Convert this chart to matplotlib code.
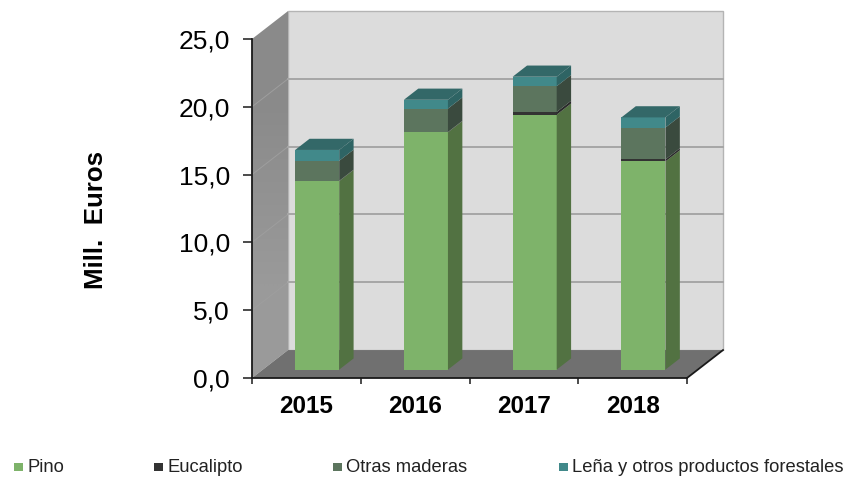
import matplotlib
matplotlib.use('Agg')
import matplotlib.pyplot as plt
from matplotlib.colors import LinearSegmentedColormap
from matplotlib.patches import Polygon, Rectangle

plt.rcParams['font.family'] = ['Liberation Sans', 'DejaVu Sans']

years = ['2015', '2016', '2017', '2018']
pino = [13.9, 17.5, 18.8, 15.35]
eucalipto = [0.02, 0.02, 0.2, 0.15]
otras = [1.48, 1.73, 1.9, 2.35]
lena = [0.8, 0.65, 0.7, 0.75]
series_names = ['Pino', 'Eucalipto', 'Otras maderas', 'Leña y otros productos forestales']
yticks = [0, 5, 10, 15, 20, 25]

front_colors = ['#7EB36A', '#333333', '#5C755E', '#41898A']
side_colors = ['#527242', '#2A2A2A', '#3A4A3E', '#2E6464']
top_color = '#336868'

# how far the back wall sits from the front, in data units
DX = 36 / 108.75
DY = 2.06
BAR_W = 0.405


def proj(x, v, d):
    return (x + d * DX, v + d * DY)


def draw_bar(ax, center, values):
    left = center - BAR_W / 2
    right = center + BAR_W / 2
    d0, d1 = 0.3, 0.7
    bottom = 0
    for val, fc, sc in zip(values, front_colors, side_colors):
        top = bottom + val
        ax.add_patch(Polygon([proj(left, bottom, d0), proj(right, bottom, d0),
                              proj(right, top, d0), proj(left, top, d0)],
                             fc=fc, ec='none', clip_on=False, zorder=3))
        ax.add_patch(Polygon([proj(right, bottom, d0), proj(right, bottom, d1),
                              proj(right, top, d1), proj(right, top, d0)],
                             fc=sc, ec='none', clip_on=False, zorder=3))
        bottom = top
    # lid of the bar
    ax.add_patch(Polygon([proj(left, bottom, d0), proj(right, bottom, d0),
                          proj(right, bottom, d1), proj(left, bottom, d1)],
                         fc=top_color, ec='none', clip_on=False, zorder=3))


W, H = 849, 479
fig = plt.figure(figsize=(W / 100, H / 100), dpi=100, facecolor='white')
ax = fig.add_axes([252 / W, (H - 378) / H, 435 / W, 339 / H])
ax.patch.set_visible(False)

n = len(years)
top_v = yticks[-1]

# walls and floor
ax.add_patch(Polygon([proj(0, 0, 1), proj(n, 0, 1), proj(n, top_v, 1), proj(0, top_v, 1)],
                     fc='#DCDCDC', ec='#B4B4B4', lw=1, clip_on=False, zorder=1))
wall = Polygon([proj(0, 0, 0), proj(0, 0, 1), proj(0, top_v, 1), proj(0, top_v, 0)],
               fc='none', ec='none', transform=ax.transData)
ax.add_patch(wall)
wall.set_clip_on(False)
wall_cmap = LinearSegmentedColormap.from_list('wall', ['#8A8A8A', '#9A9A9A'])
img = ax.imshow([[0], [1]], cmap=wall_cmap, aspect='auto', interpolation='bilinear',
                extent=(0, DX, 0, top_v + DY), zorder=1)
img.set_clip_box(fig.bbox)
img.set_clip_path(wall)
ax.add_patch(Polygon([proj(0, 0, 0), proj(n, 0, 0), proj(n, 0, 1), proj(0, 0, 1)],
                     fc='#707070', ec='none', clip_on=False, zorder=1))

for t in yticks[1:-1]:
    a = proj(0, t, 0)
    b = proj(0, t, 1)
    c = proj(n, t, 1)
    ax.plot([a[0], b[0]], [a[1], b[1]], color='#9E9E9E', lw=0.7, clip_on=False, zorder=2)
    ax.plot([b[0], c[0]], [b[1], c[1]], color='#A6A6A6', lw=1.4, clip_on=False, zorder=2)

# right edge of the floor
e = proj(n, 0, 1)
ax.plot([n, e[0]], [0, e[1]], color='#1A1A1A', lw=1.3, clip_on=False, zorder=2)

for i in range(n):
    draw_bar(ax, i + 0.5, [pino[i], eucalipto[i], otras[i], lena[i]])

ax.set_xlim(0, n)
ax.set_ylim(0, 25)

for s in ['top', 'right']:
    ax.spines[s].set_visible(False)
for s in ['left', 'bottom']:
    ax.spines[s].set_color('#1A1A1A')
    ax.spines[s].set_linewidth(1.3)
    ax.spines[s].set_zorder(5)

ax.set_yticks(yticks)
ax.set_yticklabels([('%.1f' % t).replace('.', ',') for t in yticks], fontsize=19)
ax.tick_params(axis='y', length=6.5, width=1.1, color='#1A1A1A', pad=9.5)

ax.set_xticks(range(n + 1))
ax.set_xticklabels([])
ax.tick_params(axis='x', which='major', length=4, width=1.1, color='#1A1A1A')
ax.set_xticks([i + 0.5 for i in range(n)], minor=True)
ax.set_xticklabels(years, minor=True, fontsize=17.5, fontweight='bold')
ax.tick_params(axis='x', which='minor', length=0, pad=12.5)

fig.text(96 / W, 1 - 220 / H, 'Mill.  Euros', rotation=90, fontsize=18.6, fontweight='bold',
         ha='center', va='center')

# legend is spread unevenly in the original, so it is placed by hand
legend_x = [14, 154, 333, 559]
for x, name, col in zip(legend_x, series_names, front_colors):
    fig.add_artist(Rectangle((x / W, 1 - 471 / H), 8.5 / W, 8.5 / H, transform=fig.transFigure,
                             fc=col, ec='none'))
    fig.text((x + 13.5) / W, 1 - 472 / H, name, fontsize=13.2, ha='left', va='baseline', color='#222222')

fig.savefig('out.png', dpi=100)
